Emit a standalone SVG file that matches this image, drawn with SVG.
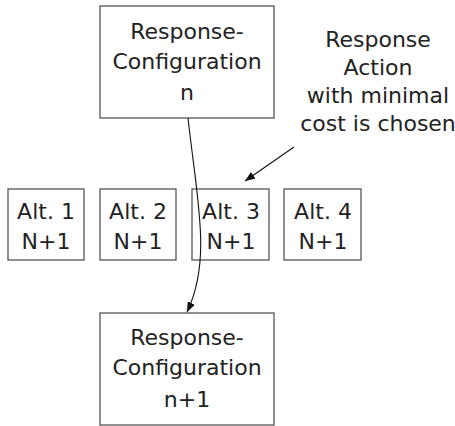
<svg xmlns="http://www.w3.org/2000/svg" width="455" height="426" viewBox="0 0 455 426">
  <style>
    .box { fill: #ffffff; stroke: #555555; stroke-width: 1.3; }
    .lbl { font-family: "DejaVu Sans", "Liberation Sans", sans-serif; font-size: 22px; fill: #222222; text-anchor: middle; }
    .conn { fill: none; stroke: #111111; stroke-width: 1.1; }
  </style>
  <defs>
    <marker id="arrow" viewBox="0 0 10 8" refX="10" refY="4" markerWidth="10" markerHeight="8" markerUnits="userSpaceOnUse" orient="auto">
      <path d="M0,0 L10,4 L0,8 Z" fill="#111111"/>
    </marker>
  </defs>
  <rect width="455" height="426" fill="#ffffff"/>

  <g id="config-n">
    <rect class="box" x="100" y="6" width="174" height="112"/>
    <text class="lbl" x="187" y="39">Response-</text>
    <text class="lbl" x="187" y="69">Configuration</text>
    <text class="lbl" x="187" y="100">n</text>
  </g>

  <g id="note">
    <text class="lbl" x="378" y="47">Response</text>
    <text class="lbl" x="378" y="75">Action</text>
    <text class="lbl" x="378" y="103">with minimal</text>
    <text class="lbl" x="378" y="131">cost is chosen</text>
  </g>

  <g id="alt1">
    <rect class="box" x="8" y="189" width="76" height="71"/>
    <text class="lbl" x="46" y="219">Alt. 1</text>
    <text class="lbl" x="46" y="249">N+1</text>
  </g>
  <g id="alt2">
    <rect class="box" x="100" y="189" width="76" height="71"/>
    <text class="lbl" x="138" y="219">Alt. 2</text>
    <text class="lbl" x="138" y="249">N+1</text>
  </g>
  <g id="alt3">
    <rect class="box" x="192" y="189" width="77" height="71"/>
    <text class="lbl" x="231" y="219">Alt. 3</text>
    <text class="lbl" x="231" y="249">N+1</text>
  </g>
  <g id="alt4">
    <rect class="box" x="284" y="189" width="77" height="71"/>
    <text class="lbl" x="323" y="219">Alt. 4</text>
    <text class="lbl" x="323" y="249">N+1</text>
  </g>

  <g id="config-n1">
    <rect class="box" x="100" y="313" width="174" height="112"/>
    <text class="lbl" x="187" y="345">Response-</text>
    <text class="lbl" x="187" y="375">Configuration</text>
    <text class="lbl" x="187" y="407">n+1</text>
  </g>

  <g id="connectors">
    <path class="conn" d="M188,118 C197,200 212,260 187,312" marker-end="url(#arrow)"/>
    <path class="conn" d="M294,147 L245,181" marker-end="url(#arrow)"/>
  </g>
</svg>
